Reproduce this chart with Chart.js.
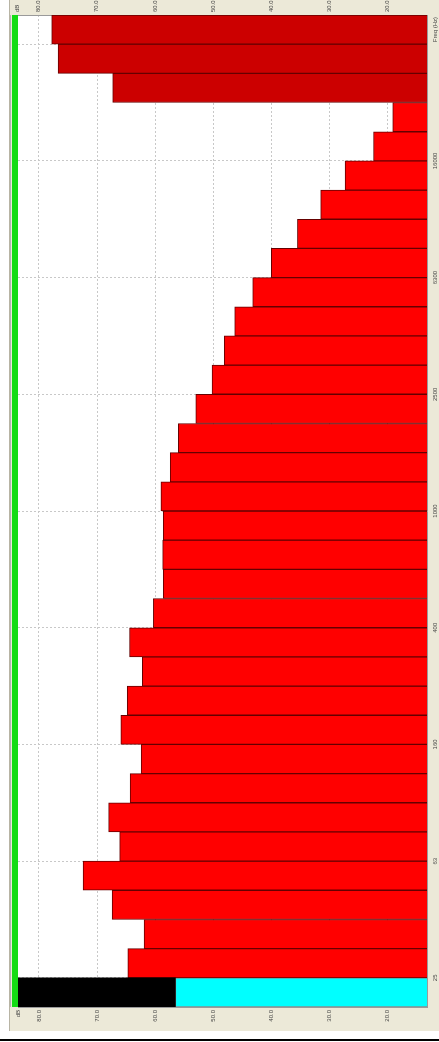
<!DOCTYPE html>
<html>
<head>
<meta charset="utf-8">
<script src="https://cdn.jsdelivr.net/npm/chart.js@4/dist/chart.umd.min.js"></script>
<style>
  html, body { margin: 0; padding: 0; background: #fff; }
  #panel { position: absolute; left: 9px; top: 0; width: 430px; height: 1031px; background: #ece9d8; border-left: 1px solid #b8b4a4; box-sizing: border-box; }
  #wrap { position: absolute; left: 9px; top: 0; width: 430px; height: 1031px; }
  #rule { position: absolute; left: 0; top: 1039px; width: 439px; height: 2px; background: #000; }
</style>
</head>
<body>
<div id="panel"></div>
<div id="wrap"><canvas id="chart"></canvas></div>
<div id="rule"></div>
<script>
// 1/3 octave bands, bottom to top, then the three overall levels
const bands = ["20", "25", "31.5", "40", "50", "63", "80", "100", "125", "160", "200", "250", "315", "400", "500", "630", "800", "1000", "1250", "1600", "2000", "2500", "3150", "4000", "5000", "6300", "8000", "10000", "12500", "16000", "20000", "A", "C", "Z"];
const levels = [56.5, 64.7, 61.9, 67.4, 72.4, 66.1, 68.0, 64.3, 62.4, 65.9, 64.8, 62.2, 64.4, 60.3, 58.6, 58.7, 58.6, 59.0, 57.4, 56.0, 53.0, 50.2, 48.1, 46.3, 43.2, 40.0, 35.5, 31.5, 27.3, 22.4, 19.1, 67.3, 76.7, 77.8];
const levelTicks = [20, 30, 40, 50, 60, 70, 80];
const shownBands = ["25", "63", "160", "400", "1000", "2500", "6300", "16000"];
const totalBands = ["A", "C", "Z"];
const cursorBand = "20";
const dbMin = 13.2;
const dbMax = 83.6;

const fillColors = bands.map(b => b === cursorBand ? "#00ffff" : totalBands.includes(b) ? "#cc0000" : "#ff0000");
const edgeColors = bands.map(b => b === cursorBand ? "#8c8c8c" : "#650000");
const cursorFill = bands.map((b, i) => b === cursorBand ? [levels[i], dbMax] : null);
const gridRows = bands.map((b, i) => shownBands.includes(b) || i === bands.length - 1);

const labelFont = { family: "'Liberation Sans', Arial, sans-serif", size: 6 };

const frame = {
  id: "frame",
  beforeDraw(chart) {
    const { ctx, chartArea: a } = chart;
    ctx.save();
    ctx.fillStyle = "#fff";
    ctx.fillRect(a.left, a.top, a.right - a.left, a.bottom - a.top);
    ctx.restore();
  },
  afterDraw(chart) {
    const { ctx, chartArea: a, scales: { y } } = chart;
    ctx.save();
    ctx.fillStyle = "#b4b4b4";
    ctx.fillRect(a.left - 8, a.top, 1, a.bottom - a.top);
    ctx.fillStyle = "#14dc14";
    ctx.fillRect(a.left - 6, a.top, 6, a.bottom - a.top);
    ctx.translate(y.left + 8, y.getPixelForValue(bands.length - 1));
    ctx.rotate(-Math.PI / 2);
    ctx.font = "6px 'Liberation Sans', Arial, sans-serif";
    ctx.textAlign = "center";
    ctx.textBaseline = "middle";
    ctx.fillStyle = "#444";
    ctx.fillText("Freq (Hz)", 0, 0);
    ctx.restore();
  }
};

function levelAxis(position, height, showGrid, shift) {
  return {
    position,
    reverse: true,
    min: dbMin,
    max: dbMax,
    afterBuildTicks: s => { s.ticks = levelTicks.concat([dbMax]).map(v => ({ value: v })); },
    afterFit: s => { s.height = height; },
    ticks: {
      autoSkip: false,
      minRotation: 90,
      maxRotation: 90,
      padding: 3,
      labelOffset: shift,
      color: "#444",
      font: labelFont,
      callback: v => v === dbMax ? "dB" : v.toFixed(1)
    },
    grid: {
      display: showGrid,
      drawTicks: false,
      color: ctx => ctx.tick && ctx.tick.value === dbMax ? "rgba(0,0,0,0)" : "#c8c8c8"
    },
    border: { color: "#9a9a9a", width: 1, dash: [2, 2] }
  };
}

new Chart(document.getElementById("chart"), {
  type: "bar",
  data: {
    labels: bands,
    datasets: [
      {
        data: levels,
        backgroundColor: fillColors,
        borderColor: edgeColors,
        borderWidth: 1,
        grouped: false,
        barPercentage: 1,
        categoryPercentage: 1,
        order: 2
      },
      {
        data: cursorFill,
        backgroundColor: "#000",
        borderWidth: 0,
        grouped: false,
        barPercentage: 1,
        categoryPercentage: 1,
        order: 1
      }
    ]
  },
  options: {
    indexAxis: "y",
    responsive: true,
    maintainAspectRatio: false,
    animation: false,
    layout: { padding: { left: 9 } },
    plugins: { legend: { display: false }, tooltip: { enabled: false } },
    scales: {
      x: levelAxis("bottom", 24, true, 0),
      x2: levelAxis("top", 15, false, 7),
      y: {
        position: "right",
        reverse: true,
        afterFit: s => { s.width = 12; },
        ticks: {
          autoSkip: false,
          minRotation: 90,
          maxRotation: 90,
          crossAlign: "center",
          labelOffset: 14.6,
          padding: 0,
          color: "#444",
          font: labelFont,
          callback: (v, i) => shownBands.includes(bands[i]) ? bands[i] : ""
        },
        grid: {
          offset: true,
          drawTicks: false,
          color: ctx => gridRows[ctx.index] ? "#c8c8c8" : "rgba(0,0,0,0)"
        },
        border: { color: "#9a9a9a", width: 1, dash: [2, 2] }
      }
    }
  },
  plugins: [frame]
});
</script>
</body>
</html>
